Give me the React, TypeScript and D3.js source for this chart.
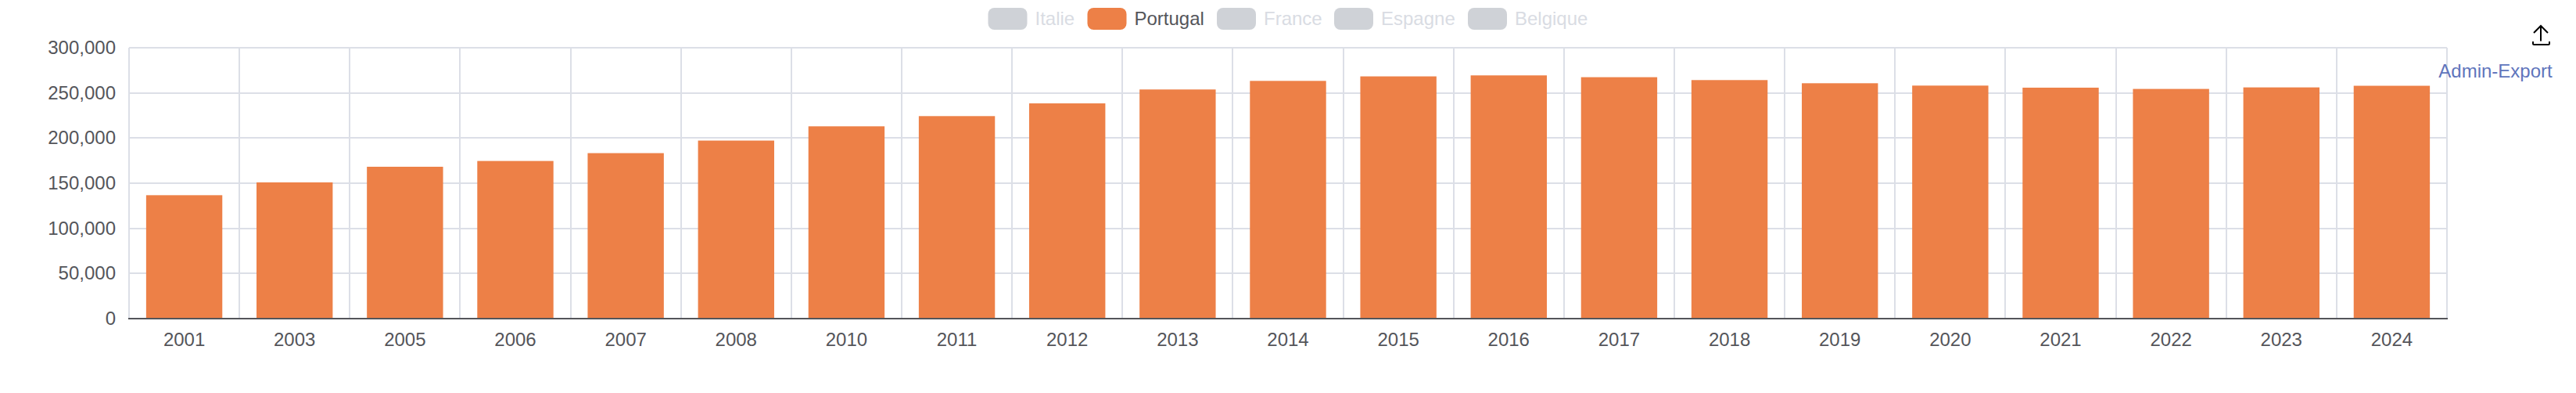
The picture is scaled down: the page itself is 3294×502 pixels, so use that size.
import React from "react";
import * as d3 from "d3";

const years = ["2001","2003","2005","2006","2007","2008","2010","2011","2012","2013","2014","2015","2016","2017","2018","2019","2020","2021","2022","2023","2024"];
const portugal = [136700,150900,168200,174600,183300,197200,213000,224300,238400,253800,263300,268300,269400,267400,264200,260700,258100,255800,254400,256100,257900];
const yTicks = [0,50000,100000,150000,200000,250000,300000];
const legendNames = ["Italie","Portugal","France","Espagne","Belgique"];
const activeLegend = "Portugal";
const exportLabel = "Admin-Export";

const W = 3294, H = 502;
const plot = { left: 165, right: 3129, top: 61, bottom: 407 };
const legendX = [1263.5, 1390.5, 1556, 1706, 1877];
const FONT = "'Liberation Sans', Helvetica, Arial, sans-serif";
const GRID = "#DCDFE7", AXIS = "#54555A", TEXT = "#54555A", BAR = "#ED8047";
const SWATCH_OFF = "#CFD2D7", TEXT_OFF = "#D9DCE3", LINK = "#5F75BC";

export default function App() {
  const x = d3.scaleBand<string>().domain(years).range([plot.left, plot.right]);
  const inner = d3.scaleBand<string>().domain(["bar"]).range([0, x.bandwidth()]).paddingInner(0).paddingOuter(0.2246);
  const y = d3.scaleLinear().domain([0, 300000]).range([plot.bottom, plot.top]);
  const fmt = d3.format(",");
  const edges = [...years.map((c) => x(c)!), plot.right];

  return (
    <svg width={W} height={H} viewBox={`0 0 ${W} ${H}`} style={{ position: "absolute", left: 0, top: 0, display: "block", background: "#fff" }} fontFamily={FONT} fontSize={24}>
      {yTicks.slice(1).map((t) => (
        <line key={t} x1={plot.left} x2={plot.right} y1={Math.round(y(t))} y2={Math.round(y(t))} stroke={GRID} strokeWidth={2} />
      ))}
      {edges.map((e, i) => (
        <line key={i} x1={Math.round(e)} x2={Math.round(e)} y1={plot.top} y2={plot.bottom} stroke={GRID} strokeWidth={2} />
      ))}
      {years.map((c, i) => (
        <rect key={c} x={x(c)! + inner("bar")!} y={y(portugal[i])} width={inner.bandwidth()} height={plot.bottom - y(portugal[i])} fill={BAR} />
      ))}
      <line x1={plot.left - 1} x2={plot.right + 1} y1={plot.bottom} y2={plot.bottom} stroke={AXIS} strokeWidth={2} />
      {yTicks.map((t) => (
        <text key={t} x={148} y={Math.round(y(t)) + 8} textAnchor="end" fill={TEXT}>{fmt(t)}</text>
      ))}
      {years.map((c) => (
        <text key={c} x={x(c)! + x.bandwidth() / 2} y={442} textAnchor="middle" fill={TEXT}>{c}</text>
      ))}
      {legendNames.map((n, i) => (
        <g key={n}>
          <rect x={legendX[i]} y={10} width={50} height={28} rx={8} ry={8} fill={n === activeLegend ? BAR : SWATCH_OFF} />
          <text x={legendX[i] + 60} y={32} fill={n === activeLegend ? TEXT : TEXT_OFF}>{n}</text>
        </g>
      ))}
      <path d="M3249 33V52.5M3240 42L3249 33L3258 42M3239 53V55.5Q3239 57 3240.5 57H3258.5Q3260 57 3260 55.5V53" fill="none" stroke="#000" strokeWidth={2} />
      <text x={3191} y={99} textAnchor="middle" fill={LINK}>{exportLabel}</text>
    </svg>
  );
}
